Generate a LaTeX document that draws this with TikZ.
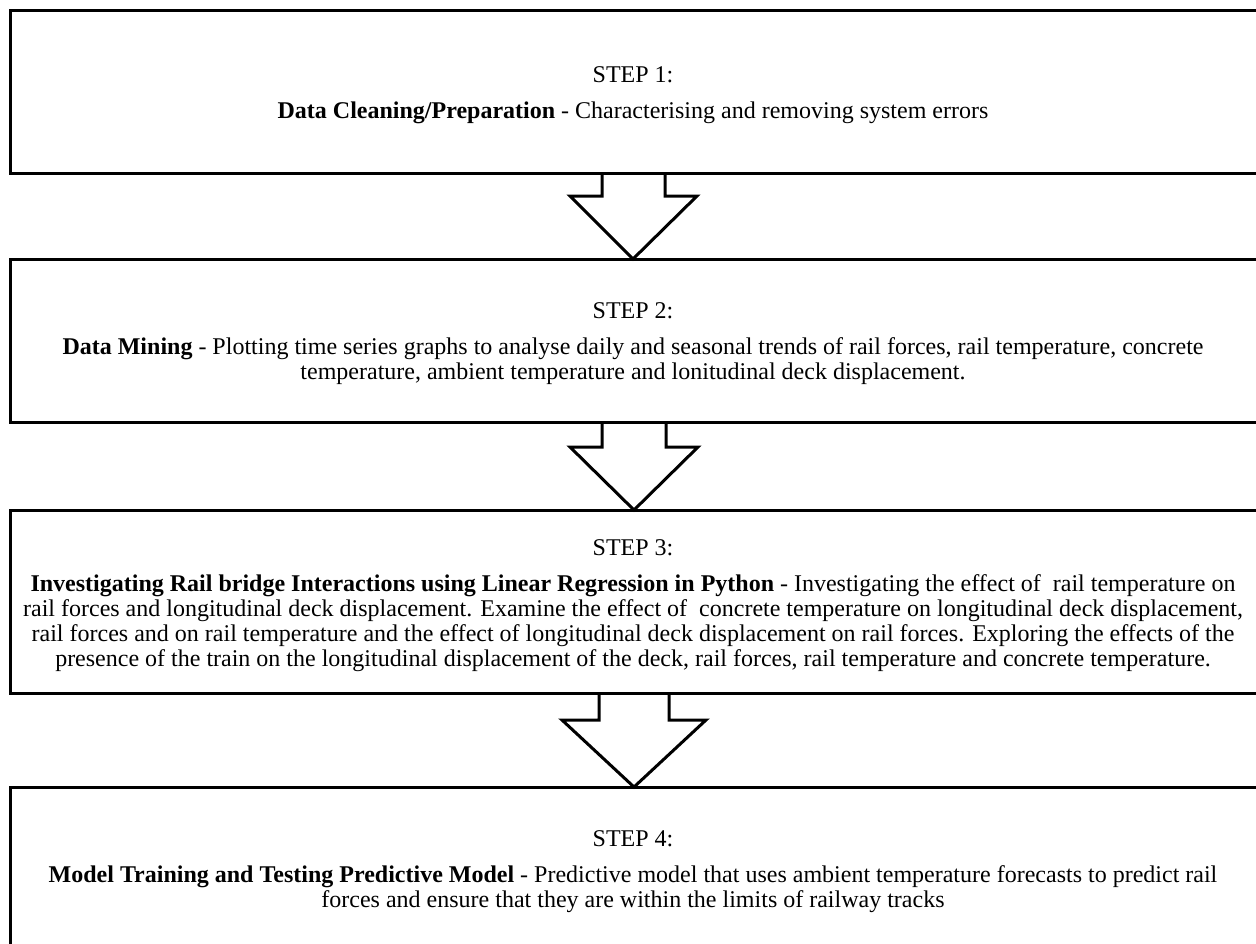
\documentclass[tikz,border=0pt]{standalone}
\usepackage{fontspec}
\setmainfont{Liberation Serif}
\usetikzlibrary{calc}
\begin{document}
\begin{tikzpicture}[x=1pt,y=-1pt,
  stepbox/.style={draw, line width=3pt, inner sep=0pt, outer sep=0pt, anchor=north west, minimum width=1260pt},
  steptext/.style={font=\fontsize{24}{25}\selectfont, align=center, anchor=base, inner sep=0pt},
  blockarrow/.style={draw, line width=3pt, line join=miter, line cap=butt},
  gapfill/.style={fill=white}]
\useasboundingbox (0,0) rectangle (1256,943);
\clip (0,0) rectangle (1256,943);
% boxes
\node[stepbox, minimum height=163pt] (b1) at (10,10) {};
\node[stepbox, minimum height=163pt] (b2) at (10,259) {};
\node[stepbox, minimum height=183pt] (b3) at (10,510) {};
\node[stepbox, minimum height=180pt] (b4) at (10,787) {};
% texts (anchored at the baseline of the last line)
\node[steptext] (t1) at (633,118) {STEP 1:\\[11pt]\textbf{Data Cleaning/Preparation} - Characterising and removing system errors};
\node[steptext] (t2) at (633,379) {STEP 2:\\[11pt]\textbf{Data Mining} - Plotting time series graphs to analyse daily and seasonal trends of rail forces, rail temperature, concrete\\temperature, ambient temperature and lonitudinal deck displacement.};
\node[steptext] (t3) at (633,666) {STEP 3:\\[11pt]\textbf{Investigating Rail bridge Interactions using Linear Regression in Python} - Investigating the effect of\ \ rail temperature on\\rail forces and longitudinal deck displacement. Examine the effect of\ \ concrete temperature on longitudinal deck displacement,\\rail forces and on rail temperature and the effect of longitudinal deck displacement on rail forces. Exploring the effects of the\\presence of the train on the longitudinal displacement of the deck, rail forces, rail temperature and concrete temperature.};
\node[steptext] (t4) at (633,907) {STEP 4:\\[11pt]\textbf{Model Training and Testing Predictive Model} - Predictive model that uses ambient temperature forecasts to predict rail\\forces and ensure that they are within the limits of railway tracks};
% arrows
\fill[gapfill] ($(603.5,0)$ |- {$(b1.south)+(0,-4)$}) rectangle ($(663.5,0)$ |- {$(b1.south)+(0,4)$});
\draw[blockarrow] (602,0 |- b1.south) -- (602,196) -- (570,196) -- (633,0 |- b2.north) -- (697,196) -- (665,196) -- (665,0 |- b1.south);
\fill[gapfill] ($(603.5,0)$ |- {$(b2.south)+(0,-4)$}) rectangle ($(664.5,0)$ |- {$(b2.south)+(0,4)$});
\draw[blockarrow] (602,0 |- b2.south) -- (602,447) -- (570,447) -- (634,0 |- b3.north) -- (698,447) -- (666,447) -- (666,0 |- b2.south);
\fill[gapfill] ($(600.5,0)$ |- {$(b3.south)+(0,-4)$}) rectangle ($(667.5,0)$ |- {$(b3.south)+(0,4)$});
\draw[blockarrow] (599,0 |- b3.south) -- (599,720) -- (562,720) -- (634,0 |- b4.north) -- (706,720) -- (669,720) -- (669,0 |- b3.south);
\end{tikzpicture}
\end{document}
